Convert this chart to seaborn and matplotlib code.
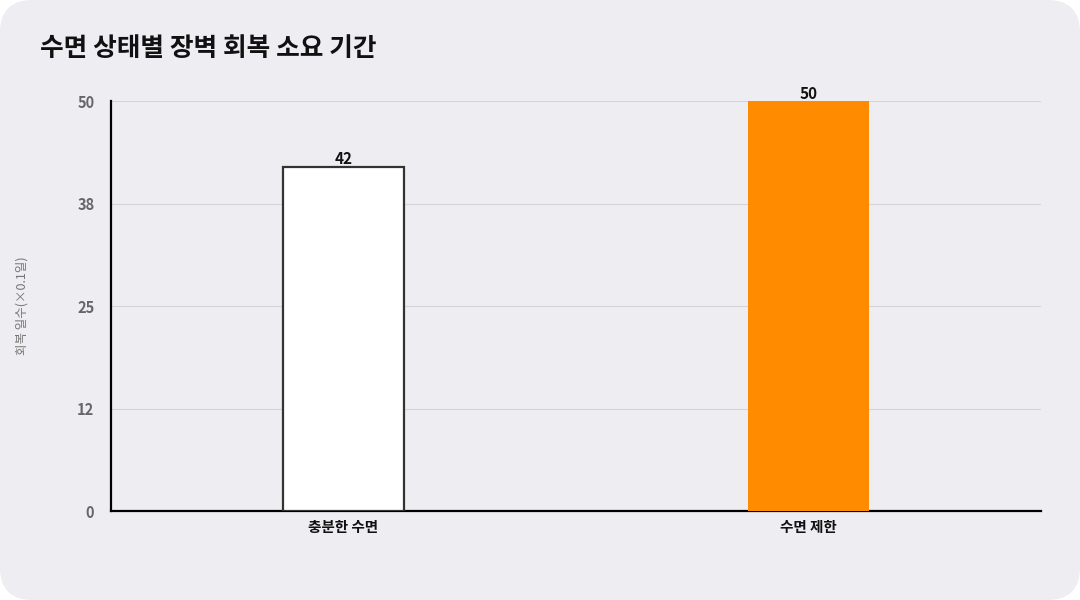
import matplotlib
matplotlib.use("Agg")
import matplotlib.pyplot as plt
import seaborn as sns
import pandas as pd
from matplotlib.patches import FancyBboxPatch

categories = ["충분한 수면", "수면 제한"]
values = [42, 50]
bar_colors = ["#FFFFFF", "#FF8C00"]
edge_colors = ["#333333", "#FF8C00"]
ytick_vals = [0, 12.5, 25, 37.5, 50]
ytick_labels = ["0", "12", "25", "38", "50"]
title = "수면 상태별 장벽 회복 소요 기간"
ylabel = "회복 일수(×0.1일)"

sns.set_theme(style="white")
plt.rcParams['font.family'] = ['Noto Sans CJK KR', 'DejaVu Sans']

bg = "#EDEDF2"
fig = plt.figure(figsize=(10.8, 6), dpi=100)
fig.patch.set_alpha(0)
fig.patches.append(FancyBboxPatch((0, 0), 1, 1, boxstyle="round,pad=0,rounding_size=0.03",
                                  transform=fig.transFigure, facecolor=bg, edgecolor="none",
                                  mutation_aspect=1.8, zorder=-10))
ax = fig.add_axes([111/1080, 1-511/600, 930/1080, 410/600])
ax.set_facecolor(bg)

df = pd.DataFrame({"cat": categories, "val": values})
sns.barplot(data=df, x="cat", y="val", hue="cat", palette=bar_colors, legend=False,
            width=0.26, saturation=1, ax=ax, zorder=3)
for p, ec in zip(ax.patches, edge_colors):
    if ec == "#FF8C00":
        p.set_edgecolor("none")
        p.set_linewidth(0)
    else:
        p.set_edgecolor(ec)
        p.set_linewidth(1.6)
for i, v in enumerate(values):
    ax.text(i, v - 0.1, f"{v}", ha="center", va="bottom", fontsize=11, fontweight="bold",
            color="#111111", zorder=5)

ax.set_xlim(-0.5, 1.5)
ax.set_ylim(0, 50)
ax.set_yticks(ytick_vals)
ax.set_yticklabels(ytick_labels)
ax.grid(axis="y", color="#D4D4DA", linewidth=0.8, zorder=0)
ax.set_axisbelow(True)
for s in ["top", "right"]:
    ax.spines[s].set_visible(False)
ax.spines["left"].set_color("#000000")
ax.spines["left"].set_linewidth(1.6)
ax.spines["bottom"].set_color("#000000")
ax.spines["bottom"].set_linewidth(1.6)
ax.tick_params(axis="y", length=0, pad=12, labelsize=10.5, labelcolor="#666666")
ax.tick_params(axis="x", length=0, pad=6, labelsize=10.5)
for t in ax.get_yticklabels():
    t.set_fontweight("bold")
for t in ax.get_xticklabels():
    t.set_fontweight("bold")
    t.set_color("#111111")
ax.set_xlabel("")
ax.set_ylabel("")
fig.text(22/1080, 1-306/600, ylabel, rotation=90, ha="center", va="center",
         fontsize=9, color="#777777")
fig.text(40/1080, 1-48/600, title, ha="left", va="center", fontsize=18.5,
         fontweight="bold", color="#111111")

fig.savefig("out.png", dpi=100, facecolor=fig.get_facecolor(), transparent=False)
